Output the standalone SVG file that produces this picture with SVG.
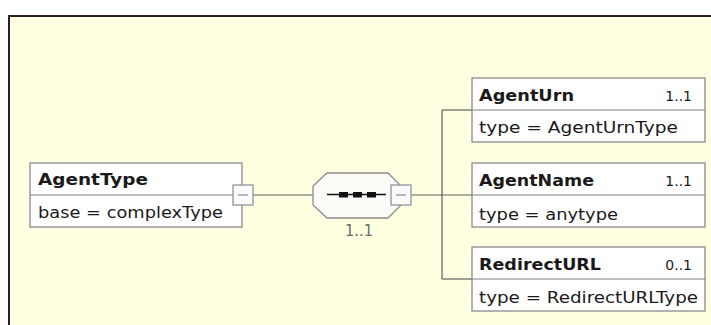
<svg xmlns="http://www.w3.org/2000/svg" width="711" height="325" viewBox="0 0 711 325">
<style>
.frame{fill:#ffffe1;stroke:#2e1c2c;stroke-width:2}
.box{fill:#ffffff;stroke:#808080;stroke-width:1.2}
.div{stroke:#808080;stroke-width:1.2}
.t{font-family:"DejaVu Sans","Verdana",sans-serif;font-size:15px;fill:#1a1a1a}
.b{font-weight:bold}
.card{font-family:"DejaVu Sans","Verdana",sans-serif;font-size:14px;fill:#1a1a1a;text-anchor:end}
.conn{fill:none;stroke:#5e5e5e;stroke-width:1.2}
.btn{fill:#fafafa;stroke:#8a8a98;stroke-width:1.2}
.minus{stroke:#8a8a98;stroke-width:1.2}
.oct{fill:#fbfbf8;stroke:#8c8c8c;stroke-width:1.3}
.seqmark{fill:#111}
</style>
<rect x="0" y="0" width="711" height="325" fill="#ffffff"/>
<rect class="frame" x="9" y="16" width="720" height="330"/>
<g id="connectors">
<line class="conn" x1="253" y1="195" x2="313" y2="195"/>
<line class="conn" x1="411" y1="195" x2="472" y2="195"/>
<line class="conn" x1="442" y1="110" x2="442" y2="279"/>
<line class="conn" x1="442" y1="110" x2="472" y2="110"/>
<line class="conn" x1="442" y1="279" x2="472" y2="279"/>
</g>
<g id="AgentType">
<rect class="box" x="30" y="163" width="212" height="64"/>
<line class="div" x1="30" y1="195" x2="242" y2="195"/>
<text class="t b" x="38" y="185" textLength="110" lengthAdjust="spacingAndGlyphs">AgentType</text>
<text class="t" x="38" y="218" textLength="185" lengthAdjust="spacingAndGlyphs">base = complexType</text>
<rect class="btn" x="233" y="185" width="20" height="20"/>
<line class="minus" x1="238" y1="195" x2="248" y2="195"/>
</g>
<g id="sequence">
<polygon class="oct" points="327,173 388,173 401,186 401,205 388,218 327,218 313,205 313,186"/>
<line x1="327" y1="194.5" x2="386" y2="194.5" stroke="#111" stroke-width="1.5"/>
<rect class="seqmark" x="339" y="192" width="9" height="5.5"/>
<rect class="seqmark" x="353" y="192" width="9" height="5.5"/>
<rect class="seqmark" x="367" y="192" width="9" height="5.5"/>
<rect class="btn" x="391" y="185" width="20" height="20"/>
<line class="minus" x1="396" y1="195" x2="406" y2="195"/>
<text x="359" y="236" font-family="DejaVu Sans, Verdana, sans-serif" font-size="15" fill="#6a6a6a" text-anchor="middle" textLength="28" lengthAdjust="spacingAndGlyphs">1..1</text>
</g>
<g id="AgentUrn">
<rect class="box" x="472" y="78" width="233" height="64"/>
<line class="div" x1="472" y1="110" x2="705" y2="110"/>
<text class="t b" x="479" y="101" textLength="95" lengthAdjust="spacingAndGlyphs">AgentUrn</text>
<text class="card" x="692" y="101">1..1</text>
<text class="t" x="479" y="133" textLength="199" lengthAdjust="spacingAndGlyphs">type = AgentUrnType</text>
</g>
<g id="AgentName">
<rect class="box" x="472" y="163" width="233" height="64"/>
<line class="div" x1="472" y1="195" x2="705" y2="195"/>
<text class="t b" x="479" y="186" textLength="115" lengthAdjust="spacingAndGlyphs">AgentName</text>
<text class="card" x="692" y="186">1..1</text>
<text class="t" x="479" y="220" textLength="139" lengthAdjust="spacingAndGlyphs">type = anytype</text>
</g>
<g id="RedirectURL">
<rect class="box" x="472" y="247" width="233" height="64"/>
<line class="div" x1="472" y1="279" x2="705" y2="279"/>
<text class="t b" x="479" y="270" textLength="122" lengthAdjust="spacingAndGlyphs">RedirectURL</text>
<text class="card" x="692" y="270">0..1</text>
<text class="t" x="479" y="303" textLength="219" lengthAdjust="spacingAndGlyphs">type = RedirectURLType</text>
</g>
</svg>
